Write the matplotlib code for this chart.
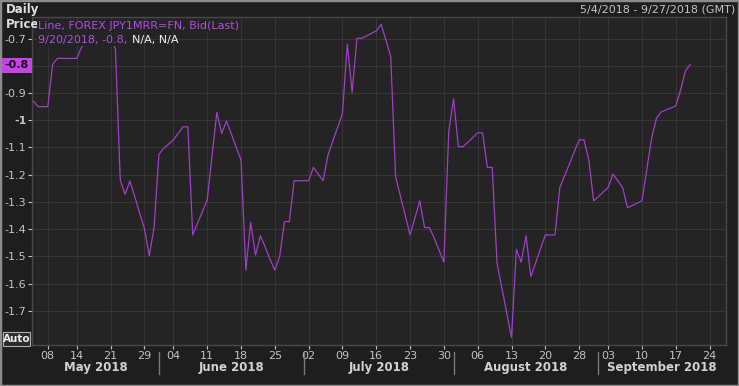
import matplotlib
matplotlib.use('Agg')
import matplotlib.pyplot as plt
from matplotlib.patches import Rectangle
from matplotlib.lines import Line2D
import numpy as np
import pandas as pd

# JPY1MRR=FN daily bid, 4 May - 20 Sep 2018 (chart skips UK bank holidays)
holidays = ['2018-05-07', '2018-05-28', '2018-08-27']
values = [
    -0.93, -0.95, -0.95, -0.95, -0.795, -0.773, -0.773, -0.773, -0.773, -0.773,
    -0.732, -0.70, -0.70, -0.70, -0.70, -0.70, -0.71, -0.736, -1.22, -1.272,
    -1.223, -1.28, -1.34, -1.397, -1.497, -1.395, -1.125, -1.103, -1.088, -1.072,
    -1.048, -1.024, -1.024, -1.421, -1.378, -1.336, -1.293, -1.13, -0.971, -1.048,
    -1.003, -1.05, -1.10, -1.146, -1.55, -1.375, -1.495, -1.424, -1.465, -1.51,
    -1.55, -1.50, -1.372, -1.372, -1.222, -1.222, -1.222, -1.222, -1.173, -1.198,
    -1.222, -1.128, -1.077, -1.026, -0.975, -0.721, -0.897, -0.699, -0.699, -0.69,
    -0.681, -0.672, -0.648, -0.706, -0.767, -1.207, -1.278, -1.35, -1.421, -1.358,
    -1.296, -1.394, -1.394, -1.433, -1.477, -1.521, -1.042, -0.922, -1.097, -1.097,
    -1.08, -1.063, -1.046, -1.046, -1.173, -1.173, -1.525, -1.616, -1.707, -1.798,
    -1.474, -1.521, -1.424, -1.574, -1.523, -1.472, -1.421, -1.421, -1.421, -1.247,
    -1.203, -1.159, -1.115, -1.072, -1.072, -1.146, -1.296, -1.28, -1.263, -1.247,
    -1.198, -1.222, -1.247, -1.321, -1.313, -1.304, -1.296, -1.181, -1.066, -0.993,
    -0.969, -0.962, -0.955, -0.947, -0.889, -0.819, -0.795,
]
y_ticks = [-0.7, -0.8, -0.9, -1.0, -1.1, -1.2, -1.3, -1.4, -1.5, -1.6, -1.7]
last_label = '-0.8'

axis_dates = pd.date_range('2018-05-04', '2018-09-27')
axis_dates = axis_dates[~axis_dates.isin(pd.to_datetime(holidays))]

W, H = 739, 386
BG = '#1e1e1e'
PLOT_BG = '#242424'
GRID = '#363636'
LINE = '#a23ec8'
TXT = '#c4c4c4'


def fx(px):
    return px / W


def fy(py):
    return 1 - py / H


fig = plt.figure(figsize=(W / 100, H / 100), dpi=100, facecolor=BG)
ax = fig.add_axes([fx(32), 41 / H, 694 / W, 328 / H], facecolor=PLOT_BG)

x = np.arange(len(values))
ax.plot(x, values, color=LINE, lw=0.9, zorder=3)

ax.set_xlim(-0.27, 143.4)
ax.set_ylim(-1.825, -0.621)

# week ticks: first trading day of each week
weeks = axis_dates.isocalendar().week.values
tick_idx = [i for i in range(1, len(axis_dates)) if weeks[i] != weeks[i - 1]]
ax.set_xticks(tick_idx)
ax.set_xticklabels([axis_dates[i].strftime('%d') for i in tick_idx])
ax.set_yticks(y_ticks)
ylabels = ['' if f'{v:g}' == last_label else f'{v:g}' for v in y_ticks]
ax.set_yticklabels(ylabels)
for t in ax.get_yticklabels():
    if t.get_text() == '-1':
        t.set_fontweight('bold')
        t.set_color('#e6e6e6')

ax.tick_params(axis='x', length=3, pad=1.5, labelsize=8, colors=TXT)
ax.tick_params(axis='y', length=3, pad=1, labelsize=8, colors=TXT)
ax.grid(True, color=GRID, lw=0.8)
ax.set_axisbelow(True)
for s in ax.spines.values():
    s.set_color('#484848')
    s.set_linewidth(1)

# month bands under the week ticks
months = axis_dates.month.values
bounds = [i for i in range(1, len(axis_dates)) if months[i] != months[i - 1]]
edges = [ax.get_xlim()[0]] + bounds + [ax.get_xlim()[1]]
trans = ax.get_xaxis_transform()
for i in range(len(edges) - 1):
    name = axis_dates[int(np.ceil(edges[i]))].strftime('%B %Y')
    ax.text((edges[i] + edges[i + 1]) / 2, -0.068, name, transform=trans,
            ha='center', va='center', fontsize=8.5, fontweight='bold', color='#d2d2d2')
for b in bounds:
    ax.add_line(Line2D([b, b], [-0.02, -0.088], transform=trans, color='#7a7a7a',
                       lw=1, clip_on=False))

# legend text inside plot
t1 = fig.text(fx(38), fy(26), 'Line, FOREX JPY1MRR=FN, Bid(Last)', fontsize=8,
              color='#b24ee0', va='center', ha='left',
              bbox=dict(facecolor=PLOT_BG, edgecolor='none', pad=1), zorder=5)
t2 = fig.text(fx(38), fy(40), '9/20/2018, -0.8, ', fontsize=8, color='#b24ee0',
              va='center', ha='left',
              bbox=dict(facecolor=PLOT_BG, edgecolor='none', pad=1), zorder=5)
fig.canvas.draw()
fig.text(0, 0, 'N/A, N/A', fontsize=8, color='#f0f0f0', va='center', ha='left',
         transform=matplotlib.transforms.offset_copy(
             fig.transFigure, fig=fig, x=t2.get_window_extent().x1 + 1,
             y=fy(40) * H, units='dots'),
         zorder=6)

# header and side labels
fig.text(fx(6), fy(10), 'Daily', fontsize=8.5, fontweight='bold', color='#e0e0e0', va='center')
fig.text(fx(6), fy(24), 'Price', fontsize=8.5, fontweight='bold', color='#e0e0e0', va='center')
fig.text(fx(735), fy(10), '5/4/2018 - 9/27/2018 (GMT)', fontsize=8, color=TXT,
         va='center', ha='right')

# last value marker on the price axis
fig.patches.append(Rectangle((fx(2), fy(73)), 30 / W, 15 / H, transform=fig.transFigure,
                             facecolor='#c444ea', edgecolor='none', zorder=4))
fig.text(fx(29), fy(65.5), last_label, fontsize=8, fontweight='bold', color='#151515',
         va='center', ha='right', zorder=5)

# Auto button
fig.patches.append(Rectangle((fx(3), fy(346)), 27 / W, 14 / H, transform=fig.transFigure,
                             facecolor='#2a2a2a', edgecolor='#b0b0b0', lw=0.8, zorder=4))
fig.text(fx(16.5), fy(339), 'Auto', fontsize=7.5, fontweight='bold', color='#f0f0f0',
         va='center', ha='center', zorder=5)

# outer frame
fig.patches.append(Rectangle((0, 0), 1, 1, transform=fig.transFigure, fill=False,
                             edgecolor='#8c8c8c', lw=2.5))

fig.savefig('out.png', dpi=100, facecolor=BG)
